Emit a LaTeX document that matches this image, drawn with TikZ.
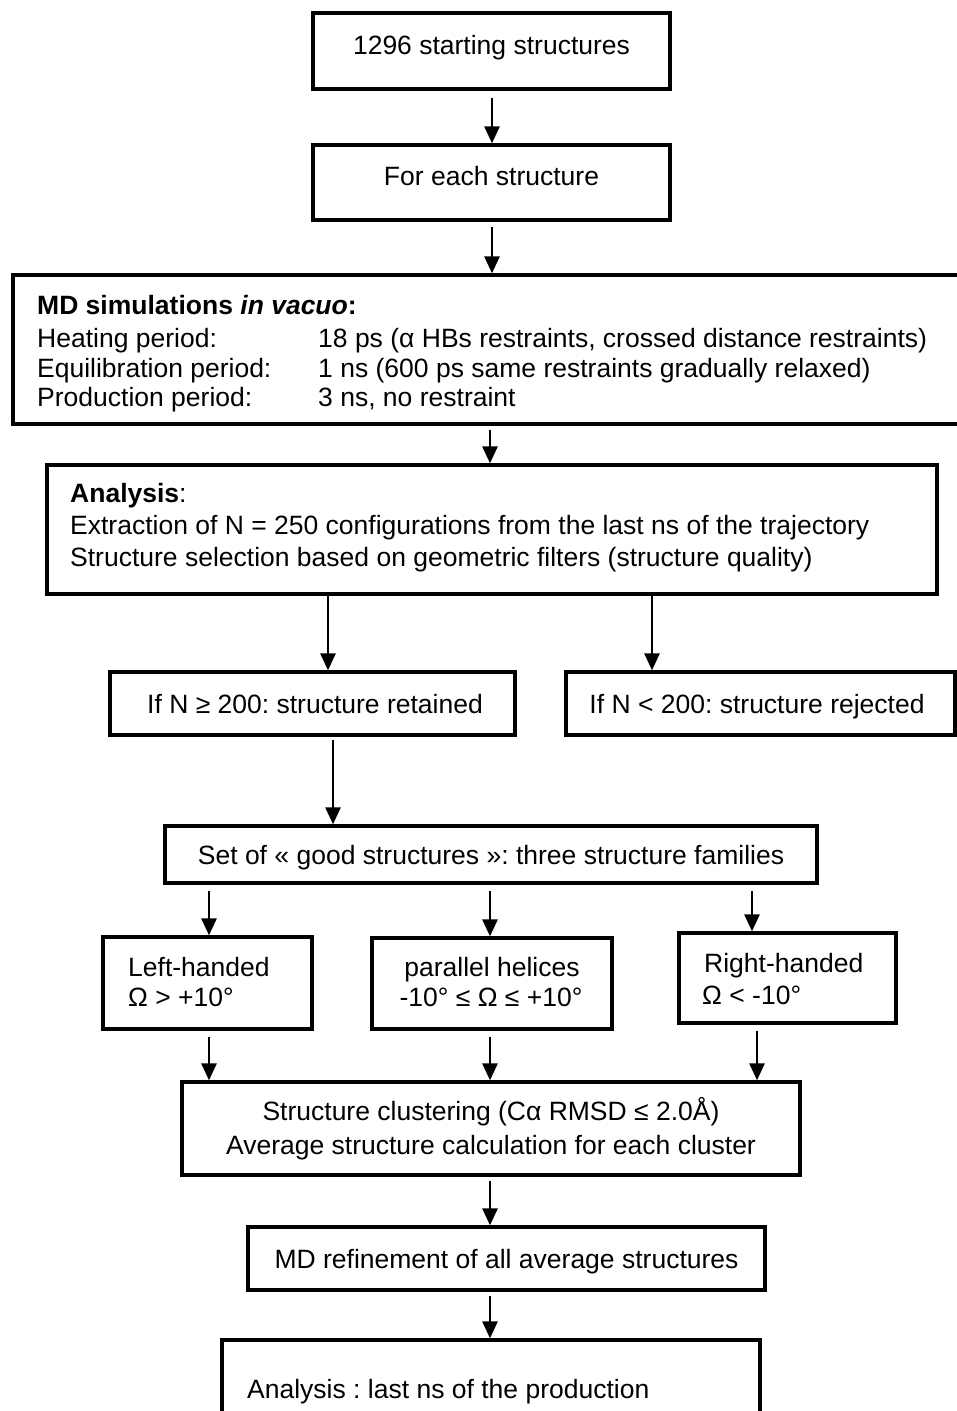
\documentclass[tikz,border=0pt]{standalone}
\usepackage{fontspec}
\setmainfont{Liberation Sans}
\usetikzlibrary{arrows.meta}
\frenchspacing
\begin{document}
\begin{tikzpicture}[x=1pt,y=-1pt,
  box/.style={draw, line width=3.3pt, rectangle, inner sep=0pt},
  txt/.style={font=\fontsize{26.5}{32}\selectfont, inner sep=0pt},
  arr/.style={line width=2.8pt, -{Triangle[length=17pt,width=15pt]}},
]
\useasboundingbox (0,0) rectangle (957,1411);
\clip (0,0) rectangle (957,1411);
\fill[white] (0,0) rectangle (957,1411);

% boxes
\node[box, minimum width=357pt, minimum height=76pt] (b1) at (491.5,51) {};
\node[box, minimum width=357pt, minimum height=75pt] (b2) at (491.5,182.5) {};
\node[box, minimum width=962pt, minimum height=149pt] (md) at (494,349.5) {};
\node[box, minimum width=890pt, minimum height=129pt] (an) at (492,529.5) {};
\node[box, minimum width=405pt, minimum height=63pt] (ret) at (312.5,703.5) {};
\node[box, minimum width=389pt, minimum height=63pt] (rej) at (760.5,703.5) {};
\node[box, minimum width=652pt, minimum height=57pt] (set) at (491,854.5) {};
\node[box, minimum width=209pt, minimum height=92pt] (lh) at (207.5,983) {};
\node[box, minimum width=240pt, minimum height=91pt] (ph) at (492,983.5) {};
\node[box, minimum width=217pt, minimum height=90pt] (rh) at (787.5,978) {};
\node[box, minimum width=618pt, minimum height=93pt] (cl) at (491,1128.5) {};
\node[box, minimum width=517pt, minimum height=63pt] (ref) at (506.5,1258.5) {};
\node[box, minimum width=538pt, minimum height=100pt] (last) at (491,1390) {};

% texts
\node[txt, anchor=base] (t1) at (491.5,54.5) {1296 starting structures};
\node[txt, anchor=base] (t2) at (491.5,185.5) {For each structure};
\node[txt, anchor=base west] (tmd0) at (37,314.5) {\textbf{MD simulations \textit{in vacuo}:}};
\node[txt, anchor=base west] (tmd1) at (37,347.5) {Heating period:};
\node[txt, anchor=base west] (tmd2) at (37,377.5) {Equilibration period:};
\node[txt, anchor=base west] (tmd3) at (37,406.5) {Production period:};
\node[txt, anchor=base west] (tmd4) at (318,347.5) {18 ps (α HBs restraints, crossed distance restraints)};
\node[txt, anchor=base west] (tmd5) at (318,377.5) {1 ns (600 ps same restraints gradually relaxed)};
\node[txt, anchor=base west] (tmd6) at (318,406.5) {3 ns, no restraint};
\node[txt, anchor=base west] (tan0) at (70,502.5) {\textbf{Analysis}:};
\node[txt, anchor=base west] (tan1) at (70,534.5) {Extraction of N = 250 configurations from the last ns of the trajectory};
\node[txt, anchor=base west] (tan2) at (70,566.5) {Structure selection based on geometric filters (structure quality)};
\node[txt, anchor=base] (tret) at (315,713.5) {If N ≥ 200: structure retained};
\node[txt, anchor=base] (trej) at (757,713.5) {If N < 200: structure rejected};
\node[txt, anchor=base] (tset) at (491,864.5) {Set of « good structures »: three structure families};
\node[txt, anchor=base west] (tlh1) at (128,976.5) {Left-handed};
\node[txt, anchor=base west] (tlh2) at (128,1006.5) {Ω > +10°};
\node[txt, anchor=base] (tph1) at (492,976.5) {parallel helices};
\node[txt, anchor=base] (tph2) at (491,1006.5) {-10° ≤ Ω ≤ +10°};
\node[txt, anchor=base west] (trh1) at (704,972.5) {Right-handed};
\node[txt, anchor=base west] (trh2) at (702,1004.5) {Ω < -10°};
\node[txt, anchor=base] (tcl1) at (491,1120.5) {Structure clustering (Cα RMSD ≤ 2.0Å)};
\node[txt, anchor=base] (tcl2) at (491,1154.5) {Average structure calculation for each cluster};
\node[txt, anchor=base] (tref) at (506.5,1268.5) {MD refinement of all average structures};
\node[txt, anchor=base west] (tlast) at (247,1398.5) {Analysis : last ns of the production};

% connector x positions
\coordinate (c1) at (492,0);
\coordinate (c2) at (490,0);
\coordinate (c3) at (328,0);
\coordinate (c4) at (652,0);
\coordinate (c5) at (333,0);
\coordinate (c6) at (209,0);
\coordinate (c7) at (752,0);
\coordinate (c8) at (757,0);

% arrows
\draw[arr, shorten <=7pt] (b1.south -| c1) -- (b2.north -| c1);
\draw[arr, shorten <=5pt] (b2.south -| c1) -- (md.north -| c1);
\draw[arr, shorten <=4pt] (md.south -| c2) -- (an.north -| c2);
\draw[arr] (an.south -| c3) -- (ret.north -| c3);
\draw[arr] (an.south -| c4) -- (rej.north -| c4);
\draw[arr, shorten <=3pt] (ret.south -| c5) -- (set.north -| c5);
\draw[arr, shorten <=6pt] (set.south -| c6) -- (lh.north -| c6);
\draw[arr, shorten <=6pt] (set.south -| c2) -- (ph.north -| c2);
\draw[arr, shorten <=6pt] (set.south -| c7) -- (rh.north -| c7);
\draw[arr, shorten <=6pt] (lh.south -| c6) -- (cl.north -| c6);
\draw[arr, shorten <=6pt] (ph.south -| c2) -- (cl.north -| c2);
\draw[arr, shorten <=6pt] (rh.south -| c8) -- (cl.north -| c8);
\draw[arr, shorten <=4pt] (cl.south -| c2) -- (ref.north -| c2);
\draw[arr, shorten <=4pt] (ref.south -| c2) -- (last.north -| c2);
\end{tikzpicture}
\end{document}
